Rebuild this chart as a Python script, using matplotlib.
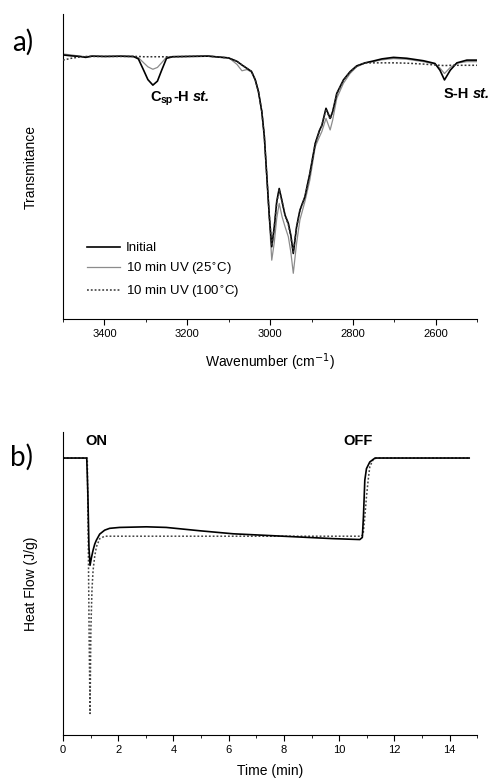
import matplotlib
matplotlib.use("Agg")
import matplotlib.pyplot as plt
from matplotlib.ticker import MultipleLocator

# ---------------- Panel a: FTIR spectra ----------------
wavenumber = [3500, 3480, 3460, 3445, 3430, 3400, 3360, 3330, 3318, 3305, 3295, 3283,
              3272, 3262, 3250, 3235, 3200, 3150, 3100, 3080, 3068, 3056, 3045, 3036,
              3028, 3020, 3014, 3008, 3002, 2996, 2990, 2984, 2978, 2971, 2964, 2956,
              2950, 2944, 2936, 2928, 2916, 2904, 2891, 2881, 2875, 2865, 2855, 2849,
              2839, 2823, 2807, 2791, 2771, 2751, 2730, 2702, 2670, 2630, 2602, 2590,
              2579, 2565, 2549, 2525, 2500]
t_initial = [86.6, 86.3, 86.1, 85.8, 86.2, 86.1, 86.2, 86.1, 85.3, 81.5, 78.5, 76.7,
             78.0, 81.5, 85.5, 86.0, 86.1, 86.2, 85.6, 84.5, 83.3, 82.2, 81.2, 78.5,
             74.5, 68.0, 60.0, 47.0, 34.0, 23.7, 30.0, 38.5, 42.8, 38.5, 34.1, 31.4,
             27.5, 21.5, 30.3, 35.7, 40.1, 47.8, 57.6, 61.8, 63.5, 69.1, 65.8, 68.0,
             74.0, 78.4, 81.1, 83.0, 84.0, 84.6, 85.3, 85.8, 85.5, 84.7, 83.8, 81.6,
             78.4, 81.6, 84.0, 84.9, 84.9]
t_uv25 = [86.9, 86.6, 86.2, 86.0, 86.2, 86.1, 86.1, 86.0, 85.7, 84.0, 82.7, 81.9,
          82.5, 84.0, 85.9, 86.1, 86.1, 86.3, 85.7, 83.5, 81.4, 81.8, 81.0, 78.5,
          74.5, 68.0, 60.0, 47.0, 33.0, 19.3, 25.0, 33.0, 37.9, 33.5, 30.3, 27.0,
          22.0, 15.0, 24.9, 32.5, 38.5, 45.6, 56.5, 59.7, 61.5, 65.8, 62.0, 65.2,
          72.4, 77.3, 80.5, 82.7, 83.9, 84.4, 85.0, 85.4, 85.2, 84.4, 83.6, 82.3,
          80.5, 82.5, 83.9, 84.4, 84.4]
t_uv100 = [84.9, 85.5, 85.9, 86.1, 86.1, 86.1, 86.1, 86.1, 86.1, 86.0, 86.0, 86.0,
           86.0, 86.0, 86.0, 86.0, 86.1, 86.2, 85.6, 84.5, 83.3, 82.2, 81.2, 78.5,
           74.5, 68.0, 60.0, 47.0, 34.0, 24.0, 30.0, 38.0, 42.5, 38.5, 34.0, 31.0,
           27.0, 22.0, 30.0, 35.5, 40.0, 47.5, 57.5, 61.5, 63.5, 68.8, 65.5, 67.8,
           73.8, 78.2, 81.0, 82.9, 84.0, 84.0, 84.0, 84.0, 83.9, 83.6, 83.3, 83.2,
           83.1, 83.2, 83.2, 83.2, 83.2]
series_a_labels = ["Initial", "10 min UV (25$^{\\circ}$C)", "10 min UV (100$^{\\circ}$C)"]
xticks_a = [3400, 3200, 3000, 2800, 2600]

# ---------------- Panel b: photo-DSC ----------------
time_solid = [0, 0.86, 0.90, 0.94, 0.98, 1.03, 1.09, 1.15, 1.21, 1.33, 1.51, 1.69, 2.05,
              3.02, 3.74, 4.95, 6.16, 7.97, 9.78, 10.75, 10.84, 10.88, 10.93, 10.99,
              11.11, 11.30, 14.71]
hf_solid = [91.4, 91.4, 80.0, 62.0, 56.0, 58.5, 61.0, 63.0, 64.3, 66.3, 67.6, 68.2, 68.5,
            68.7, 68.5, 67.4, 66.4, 65.6, 64.8, 64.5, 65.2, 72.0, 84.1, 87.9,
            90.1, 91.4, 91.4]
time_dot = [0, 0.88, 0.92, 0.95, 0.98, 1.01, 1.05, 1.09, 1.15, 1.21, 1.33, 1.51, 3.0,
            6.0, 9.0, 10.81, 10.87, 10.93, 10.99, 11.05, 11.11, 11.23, 11.35, 14.71]
hf_dot = [91.4, 91.4, 60.0, 30.0, 7.1, 35.0, 48.0, 54.4, 59.0, 62.1, 64.8, 65.6, 65.6,
          65.6, 65.6, 65.6, 66.3, 72.0, 78.6, 84.0, 88.5, 90.9, 91.4, 91.4]
xticks_b = [0, 2, 4, 6, 8, 10, 12, 14]

plt.rcParams['font.family'] = ['Liberation Sans', 'DejaVu Sans']

fig = plt.figure(figsize=(4.94, 7.81), dpi=100)


def chained_label(ax, x, y, parts):
    """Write several text pieces one after another on a common baseline."""
    first_text, first_kw = parts[0]
    base = ax.text(x, y, first_text, va='bottom', ha='left', clip_on=False, **first_kw)
    prev = base
    for txt, kw, dx, dy in parts[1:]:
        prev = ax.annotate(txt, xy=(1, 0), xycoords=(prev, base), xytext=(dx, dy),
                           textcoords='offset points', va='bottom', ha='left',
                           annotation_clip=False, **kw)
    return base


# ---- panel a
axa = fig.add_axes([0.1275, 0.5915, 0.8385, 0.3905])
axa.plot(wavenumber, t_uv25, color='#8c8c8c', lw=0.9, label=series_a_labels[1], zorder=2)
axa.plot(wavenumber, t_initial, color='black', lw=1.2, label=series_a_labels[0], zorder=3)
axa.plot(wavenumber, t_uv100, color='#333333', lw=1.1, ls=(0, (1.2, 1.3)),
         label=series_a_labels[2], zorder=4)
axa.set_xlim(3500, 2500)
axa.set_ylim(0, 100)
axa.set_xticks(xticks_a)
axa.xaxis.set_minor_locator(MultipleLocator(100))
axa.set_yticks([])
for s in ['top', 'right']:
    axa.spines[s].set_visible(False)
axa.tick_params(axis='x', which='major', direction='out', length=4, labelsize=8, pad=3)
axa.tick_params(axis='x', which='minor', direction='out', length=2.5)
axa.set_xlabel("Wavenumber (cm$^{-1}$)", fontsize=10, labelpad=9)
axa.set_ylabel("Transmitance", fontsize=10, labelpad=18)
h, l = axa.get_legend_handles_labels()
order = [1, 0, 2]
axa.legend([h[i] for i in order], [l[i] for i in order], loc='lower left',
           bbox_to_anchor=(0.03, 0.025), frameon=False, fontsize=9.5,
           handlelength=2.5, handletextpad=0.45, labelspacing=0.5)

bold = dict(fontsize=10.5, fontweight='bold')
small = dict(fontsize=7.5, fontweight='bold')
boldit = dict(fontsize=10.5, fontweight='bold', style='italic')
chained_label(axa, 3290, 70.5, [("C", bold), ("sp", small, 0.3, -1.0),
                                ("-H", bold, 0.2, 0), ("st.", boldit, 3.0, 0)])
chained_label(axa, 2582, 71.5, [("S-H", bold), ("st.", boldit, 3.0, 0)])
fig.text(0.045, 0.946, "a)", fontsize=20, family=['Lato', 'DejaVu Sans'], ha='center', va='center')

# ---- panel b
axb = fig.add_axes([0.1275, 0.0589, 0.8385, 0.388])
axb.plot(time_solid, hf_solid, color='black', lw=1.2, zorder=3)
axb.plot(time_dot, hf_dot, color='#444444', lw=1.1, ls=(0, (1.2, 1.3)), zorder=2)
axb.set_xlim(0, 15)
axb.set_ylim(0, 100)
axb.set_xticks(xticks_b)
axb.xaxis.set_minor_locator(MultipleLocator(1))
axb.set_yticks([])
for s in ['top', 'right']:
    axb.spines[s].set_visible(False)
axb.tick_params(axis='x', which='major', direction='out', length=4, labelsize=8, pad=3)
axb.tick_params(axis='x', which='minor', direction='out', length=2.5)
axb.set_xlabel("Time (min)", fontsize=10, labelpad=7)
axb.set_ylabel("Heat Flow (J/g)", fontsize=10, labelpad=18)
axb.text(1.22, 96.9, "ON", fontsize=10.5, fontweight='bold', ha='center', va='center')
axb.text(10.7, 96.9, "OFF", fontsize=10.5, fontweight='bold', ha='center', va='center')
fig.text(0.043, 0.414, "b)", fontsize=20, family=['Lato', 'DejaVu Sans'], ha='center', va='center')

fig.savefig("out.png", dpi=100)
